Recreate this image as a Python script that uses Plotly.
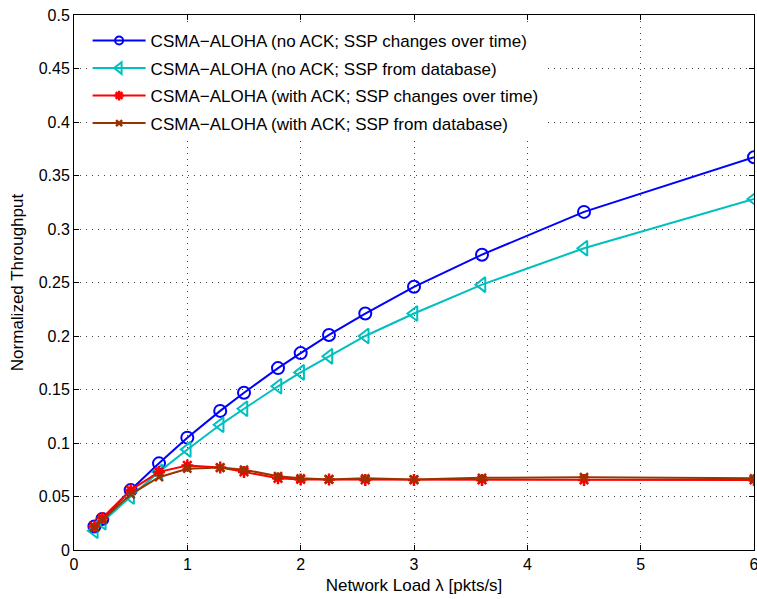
import plotly.graph_objects as go

# Network load values (pkts/s)
load = [0.18, 0.25, 0.5, 0.75, 1.0, 1.29, 1.5, 1.8, 2.0, 2.25, 2.57, 3.0, 3.6, 4.5, 6.0]

# Normalized throughput for each scheme
no_ack_time = [0.022, 0.029, 0.056, 0.081, 0.105, 0.130, 0.147, 0.170, 0.184, 0.201,
               0.221, 0.246, 0.276, 0.316, 0.367]
no_ack_db = [0.018, 0.026, 0.050, 0.073, 0.094, 0.117, 0.132, 0.153, 0.166, 0.181,
             0.200, 0.221, 0.248, 0.282, 0.328]
ack_time = [0.022, 0.030, 0.056, 0.073, 0.079, 0.077, 0.073, 0.067, 0.066, 0.066,
            0.0655, 0.0655, 0.0655, 0.0655, 0.0655]
ack_db = [0.021, 0.028, 0.052, 0.068, 0.076, 0.077, 0.075, 0.069, 0.067, 0.066,
          0.067, 0.066, 0.0675, 0.068, 0.067]

# name, values, colour, marker symbol, plot marker size, legend marker size, marker line width
series = [
    ("CSMA\u2212ALOHA (no ACK; SSP changes over time)", no_ack_time, "#0000FF",
     "circle-open", 12, 8, 2),
    ("CSMA\u2212ALOHA (no ACK; SSP from database)", no_ack_db, "#00BFBF",
     "triangle-left-open", 13, 10, 2),
    ("CSMA\u2212ALOHA (with ACK; SSP changes over time)", ack_time, "#FF0000",
     "asterisk-open", 10, 8, 2.5),
    ("CSMA\u2212ALOHA (with ACK; SSP from database)", ack_db, "#993300",
     "x-thin-open", 8, 6, 2.5),
]

FONT = "Liberation Sans, Arial, sans-serif"

fig = go.Figure()
for i, (name, vals, color, symbol, size, lsize, lw) in enumerate(series):
    fig.add_trace(go.Scatter(
        x=load, y=vals, name=name, mode="lines+markers", showlegend=False,
        line=dict(color=color, width=2),
        marker=dict(symbol=symbol, size=size, color=color, line=dict(color=color, width=lw)),
    ))
    # legend entry with smaller marker
    fig.add_trace(go.Scatter(
        x=[None], y=[None], name=name, mode="lines+markers", legendgroup=f"g{i}",
        line=dict(color=color, width=2),
        marker=dict(symbol=symbol, size=lsize, color=color, line=dict(color=color, width=lw)),
    ))

axis_common = dict(
    showline=True, linecolor="black", linewidth=1, mirror="ticks",
    ticks="inside", ticklen=5, tickcolor="black",
    showgrid=True, gridcolor="#444444", griddash="1px,5px", gridwidth=1,
    zeroline=False, ticklabeloverflow="allow", automargin=False,
    tickfont=dict(family=FONT, size=16, color="black"),
)

fig.update_xaxes(
    range=[0, 6], tickvals=[0, 1, 2, 3, 4, 5, 6],
    title=dict(text="Network Load \u03bb [pkts/s]", standoff=6,
               font=dict(family=FONT, size=17, color="black")),
    **axis_common,
)
fig.update_yaxes(
    range=[0, 0.5], tickvals=[0, 0.05, 0.1, 0.15, 0.2, 0.25, 0.3, 0.35, 0.4, 0.45, 0.5],
    ticktext=["0", "0.05", "0.1", "0.15", "0.2", "0.25", "0.3", "0.35", "0.4", "0.45", "0.5"],
    title=dict(text="Normalized Throughput", standoff=10,
               font=dict(family=FONT, size=17, color="black")),
    **axis_common,
)

fig.update_layout(
    width=757, height=599,
    margin=dict(l=74, r=3, t=15, b=49),
    paper_bgcolor="white", plot_bgcolor="white",
    showlegend=True,
    legend=dict(
        x=0.02, y=0.985, xanchor="left", yanchor="top",
        bgcolor="white", borderwidth=0,
        font=dict(family=FONT, size=17, color="black"),
        itemwidth=53, tracegroupgap=2.4,
    ),
)

fig.write_html("out.html")
